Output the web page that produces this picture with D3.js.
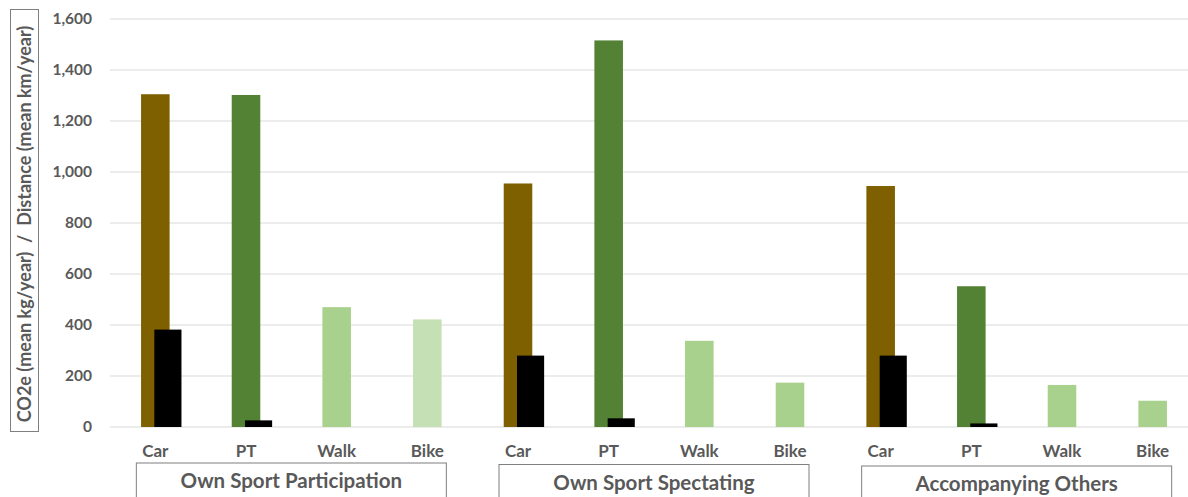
<!DOCTYPE html>
<html>
<head>
<meta charset="utf-8">
<script src="https://cdn.jsdelivr.net/npm/d3@7"></script>
<style>
  html, body { margin: 0; padding: 0; background: #fff; }
  svg { display: block; font-family: Lato, "Open Sans", sans-serif; }
</style>
</head>
<body>
<svg id="chart" width="1188" height="497"></svg>
<script>
// Trip purposes and travel modes
const groups = ["Own Sport Participation", "Own Sport Spectating", "Accompanying Others"];
const modes = ["Car", "PT", "Walk", "Bike"];

// Mean distance per year (km), one entry per group, in mode order
const distanceParticipation = [1305, 1302, 470, 422];
const distanceSpectating = [955, 1516, 338, 174];
const distanceAccompanying = [945, 552, 165, 103];

// Mean CO2e per year (kg), Car and PT only
const co2Participation = [382, 26];
const co2Spectating = [280, 34];
const co2Accompanying = [280, 14];

const yTicks = [0, 200, 400, 600, 800, 1000, 1200, 1400, 1600];

const distanceByGroup = [distanceParticipation, distanceSpectating, distanceAccompanying];
const co2ByGroup = [co2Participation, co2Spectating, co2Accompanying];

const modeColor = { Car: "#7f6000", PT: "#548235", Walk: "#a9d18e", Bike: "#a9d18e" };
const bikeColorFirst = "#c5e0b4";

const svg = d3.select("#chart");
const margin = { left: 110, top: 19, bottom: 427 };
const textColor = "#595959";

// One flat band per group/mode combination
const keys = [];
groups.forEach((g, gi) => modes.forEach((m, mi) => keys.push({ g, gi, m, mi, key: gi + "-" + m })));

const x = d3.scaleBand()
  .domain(keys.map(k => k.key))
  .range([110, 1198])
  .paddingInner(0.685)
  .paddingOuter(0.3425);

const y = d3.scaleLinear().domain([0, 1600]).range([margin.bottom, margin.top]);

// Gridlines
svg.append("g")
  .selectAll("line")
  .data(yTicks)
  .join("line")
  .attr("x1", 110).attr("x2", 1188)
  .attr("y1", d => y(d)).attr("y2", d => y(d))
  .attr("stroke", "#d9d9d9").attr("stroke-width", 1.2);

// Y axis labels
const yAxis = d3.axisLeft(y).tickValues(yTicks).tickFormat(d3.format(",")).tickSize(0).tickPadding(0);
const yAxisG = svg.append("g").attr("transform", "translate(92,0)").call(yAxis);
yAxisG.select(".domain").remove();
yAxisG.selectAll("text")
  .attr("fill", textColor).attr("font-size", 15.5).attr("font-weight", 700)
  .attr("font-family", "Lato, 'Open Sans', sans-serif");

// Distance bars
const distData = keys.map(k => ({ ...k, v: distanceByGroup[k.gi][k.mi] }));
svg.append("g")
  .selectAll("rect")
  .data(distData)
  .join("rect")
  .attr("x", d => x(d.key))
  .attr("width", x.bandwidth())
  .attr("y", d => y(d.v))
  .attr("height", d => y(0) - y(d.v))
  .attr("fill", d => (d.m === "Bike" && d.gi === 0) ? bikeColorFirst : modeColor[d.m]);

// CO2e bars, overlapping from the middle of the Car and PT bars
const co2Data = [];
groups.forEach((g, gi) => co2ByGroup[gi].forEach((v, mi) => co2Data.push({ key: gi + "-" + modes[mi], v })));
const co2Width = x.bandwidth() * 0.95;
svg.append("g")
  .selectAll("rect")
  .data(co2Data)
  .join("rect")
  .attr("x", d => x(d.key) + x.bandwidth() / 2 - 1)
  .attr("width", co2Width)
  .attr("y", d => y(d.v))
  .attr("height", d => y(0) - y(d.v))
  .attr("fill", "#000");

// Mode labels
svg.append("g")
  .selectAll("text")
  .data(keys)
  .join("text")
  .attr("x", d => x(d.key) + x.bandwidth() / 2)
  .attr("y", 457)
  .attr("text-anchor", "middle")
  .attr("fill", textColor).attr("font-size", 17).attr("font-weight", 700)
  .text(d => d.m);

// Group boxes with their names
const groupCenter = gi => {
  const a = x(gi + "-Car") + x.bandwidth() / 2;
  const b = x(gi + "-Bike") + x.bandwidth() / 2;
  return (a + b) / 2;
};
const gBoxes = svg.append("g");
groups.forEach((g, gi) => {
  const cx = groupCenter(gi);
  const top = 463 + gi * 1.5;
  gBoxes.append("rect")
    .attr("x", cx - 155).attr("y", top)
    .attr("width", 310).attr("height", 50)
    .attr("fill", "#fff").attr("stroke", "#7f7f7f").attr("stroke-width", 1);
  gBoxes.append("text")
    .attr("x", cx).attr("y", top + 25)
    .attr("text-anchor", "middle")
    .attr("fill", textColor).attr("font-size", 20.5).attr("font-weight", 700)
    .text(g);
});

// Y axis title in a box
svg.append("rect")
  .attr("x", 10.5).attr("y", 9.5).attr("width", 28).attr("height", 422)
  .attr("fill", "#fff").attr("stroke", "#7f7f7f").attr("stroke-width", 1);
svg.append("text")
  .attr("transform", "translate(31,224) rotate(-90)")
  .attr("text-anchor", "middle")
  .attr("fill", textColor).attr("font-size", 18).attr("font-weight", 700)
  .attr("xml:space", "preserve")
  .text("CO2e (mean kg/year)  /  Distance (mean km/year)");
</script>
</body>
</html>
